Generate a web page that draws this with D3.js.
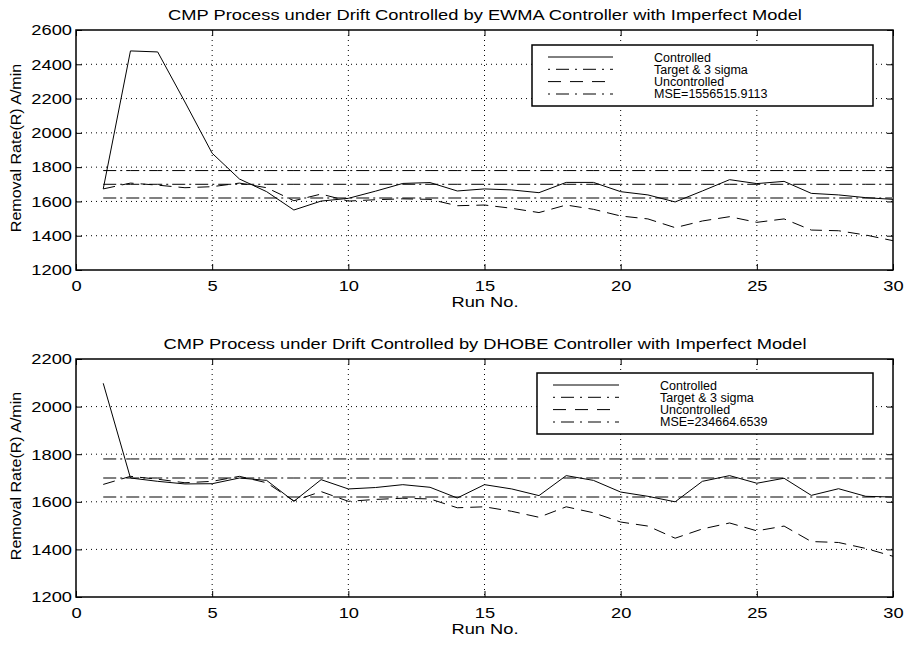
<!DOCTYPE html>
<html>
<head>
<meta charset="utf-8">
<script src="https://cdn.jsdelivr.net/npm/d3@7"></script>
<style>
  body { margin: 0; background: #fff; }
  text { font-family: "Liberation Sans", Arial, sans-serif; fill: #000; }
</style>
</head>
<body>
<div id="chart"></div>
<script>
// data
const runs = [1,2,3,4,5,6,7,8,9,10,11,12,13,14,15,16,17,18,19,20,21,22,23,24,25,26,27,28,29,30];
const ewmaControlled = [1673,2478,2472,2180,1881,1731,1657,1550,1602,1618,1660,1705,1710,1661,1673,1667,1651,1711,1711,1657,1638,1597,1661,1727,1704,1717,1647,1638,1622,1612];
const dhobeControlled = [2098,1700,1686,1675,1676,1700,1690,1602,1693,1654,1660,1672,1661,1616,1672,1654,1626,1710,1690,1641,1623,1600,1686,1710,1678,1699,1627,1655,1623,1620];
const uncontrolled = [1673,1707,1695,1680,1686,1707,1680,1604,1643,1602,1610,1615,1612,1575,1579,1560,1535,1579,1554,1515,1498,1447,1486,1511,1478,1498,1433,1429,1404,1371];
const target = 1700, ucl = 1780, lcl = 1620;
const xTicks = [0,5,10,15,20,25,30];
const yTicksTop = [1200,1400,1600,1800,2000,2200,2400,2600];
const yTicksBottom = [1200,1400,1600,1800,2000,2200];
const legendLabels = ['Controlled', 'Target & 3 sigma', 'Uncontrolled'];

const width = 905, height = 645;
const sx = 1.22; // the picture's text is stretched sideways

const svg = d3.select('#chart').append('svg')
    .attr('width', width)
    .attr('height', height);

const styles = {
    solid: {stroke: '#000', width: 1, dash: null, leg: null},
    target: {stroke: '#000', width: 1, dash: '13,4,2,4', leg: '2,6,13,6'},
    dashed: {stroke: '#000', width: 1, dash: '12,7', leg: '13,9'},
    lower: {stroke: '#808080', width: 2, dash: '13,4,2,4', leg: '2,6,13,6'}
};

// put stretched text
function txt(g, x, y, s, size, anchor, rot, stretch) {
    return g.append('text')
        .attr('font-size', size)
        .attr('text-anchor', anchor || 'start')
        .attr('transform', `translate(${x},${y}) rotate(${rot || 0}) scale(${stretch || sx},1)`)
        .text(s);
}

function drawPanel(top, bottom, yTicks, controlled, title, mse, leg) {
    const left = 76, right = 893;
    const g = svg.append('g');

    const x = d3.scaleLinear().domain([0, 30]).range([left, right]);
    const y = d3.scaleLinear().domain([yTicks[0], yTicks[yTicks.length - 1]]).range([bottom, top]);

    // grid
    g.selectAll('.gx').data(xTicks.slice(1, -1)).enter().append('line')
        .attr('x1', d => x(d)).attr('x2', d => x(d))
        .attr('y1', top).attr('y2', bottom)
        .attr('stroke', '#000').attr('stroke-width', 1).attr('stroke-dasharray', '1,4');
    g.selectAll('.gy').data(yTicks.slice(1, -1)).enter().append('line')
        .attr('x1', left).attr('x2', right)
        .attr('y1', d => y(d)).attr('y2', d => y(d))
        .attr('stroke', '#000').attr('stroke-width', 1).attr('stroke-dasharray', '1,4');

    // axes with inward ticks on all four sides
    const fmt = d3.format('d');
    const ax = [
        g.append('g').attr('transform', `translate(0,${bottom})`).call(d3.axisBottom(x).tickValues(xTicks).tickFormat(fmt).tickSizeInner(-6).tickSizeOuter(0).tickPadding(10)),
        g.append('g').attr('transform', `translate(0,${top})`).call(d3.axisTop(x).tickValues(xTicks).tickSizeInner(-6).tickSizeOuter(0).tickFormat('')),
        g.append('g').attr('transform', `translate(${left},0)`).call(d3.axisLeft(y).tickValues(yTicks).tickFormat(fmt).tickSizeInner(-6).tickSizeOuter(0)),
        g.append('g').attr('transform', `translate(${right},0)`).call(d3.axisRight(y).tickValues(yTicks).tickSizeInner(-6).tickSizeOuter(0).tickFormat(''))
    ];
    ax.forEach(a => {
        a.select('.domain').remove();
        a.selectAll('line').attr('stroke', '#000');
        a.selectAll('text').attr('font-size', 15).attr('fill', '#000')
            .attr('font-family', '"Liberation Sans", Arial, sans-serif');
    });
    // stretch the tick labels
    ax[0].selectAll('.tick text').attr('transform', `scale(${sx},1)`);
    ax[2].selectAll('.tick text').attr('x', 0).attr('transform', `translate(-4,0) scale(${sx},1)`);

    g.append('rect')
        .attr('x', left).attr('y', top)
        .attr('width', right - left).attr('height', bottom - top)
        .attr('fill', 'none').attr('stroke', '#000').attr('stroke-width', 1.5);

    const line = d3.line().x((d, i) => x(runs[i])).y(d => y(d));
    const flat = v => runs.map(() => v);

    const series = [
        [flat(ucl), styles.target],
        [flat(target), styles.target],
        [flat(lcl), styles.lower],
        [uncontrolled, styles.dashed],
        [controlled, styles.solid]
    ];
    series.forEach(([vals, st]) => {
        g.append('path')
            .datum(vals)
            .attr('d', line)
            .attr('fill', 'none')
            .attr('stroke', st.stroke)
            .attr('stroke-width', st.width)
            .attr('stroke-dasharray', st.dash);
    });

    // labels
    txt(g, 485, top - 10, title, 15, 'middle');
    txt(g, 485, bottom + 37, 'Run No.', 15, 'middle');
    txt(g, 21, (top + bottom) / 2 - 2, 'Removal Rate(R) A/min', 15, 'middle', -90, 1.07);

    // legend
    const lg = g.append('g');
    lg.append('rect')
        .attr('x', leg.x0).attr('y', leg.y0)
        .attr('width', leg.x1 - leg.x0).attr('height', leg.y1 - leg.y0)
        .attr('fill', '#fff').attr('stroke', '#000').attr('stroke-width', 1.5);
    const labels = legendLabels.concat(['MSE=' + mse]);
    const legStyles = [styles.solid, styles.target, styles.dashed, styles.lower];
    labels.forEach((s, i) => {
        const yy = leg.y0 + 12 + i * 12.3;
        lg.append('line')
            .attr('x1', leg.lx0).attr('x2', leg.lx1)
            .attr('y1', yy).attr('y2', yy)
            .attr('stroke', legStyles[i].stroke)
            .attr('stroke-width', legStyles[i].width)
            .attr('stroke-dasharray', legStyles[i].leg);
        lg.append('text')
            .attr('x', leg.tx).attr('y', yy + 4.5)
            .attr('font-size', 12.5)
            .text(s);
    });
}

drawPanel(30, 270, yTicksTop, ewmaControlled,
    'CMP Process under Drift Controlled by EWMA Controller with Imperfect Model',
    '1556515.9113',
    {x0: 532, x1: 873, y0: 45, y1: 106, lx0: 548, lx1: 613, tx: 654});

drawPanel(359, 597, yTicksBottom, dhobeControlled,
    'CMP Process under Drift Controlled by DHOBE Controller with Imperfect Model',
    '234664.6539',
    {x0: 537, x1: 873, y0: 373, y1: 434, lx0: 553, lx1: 619, tx: 660});
</script>
</body>
</html>
